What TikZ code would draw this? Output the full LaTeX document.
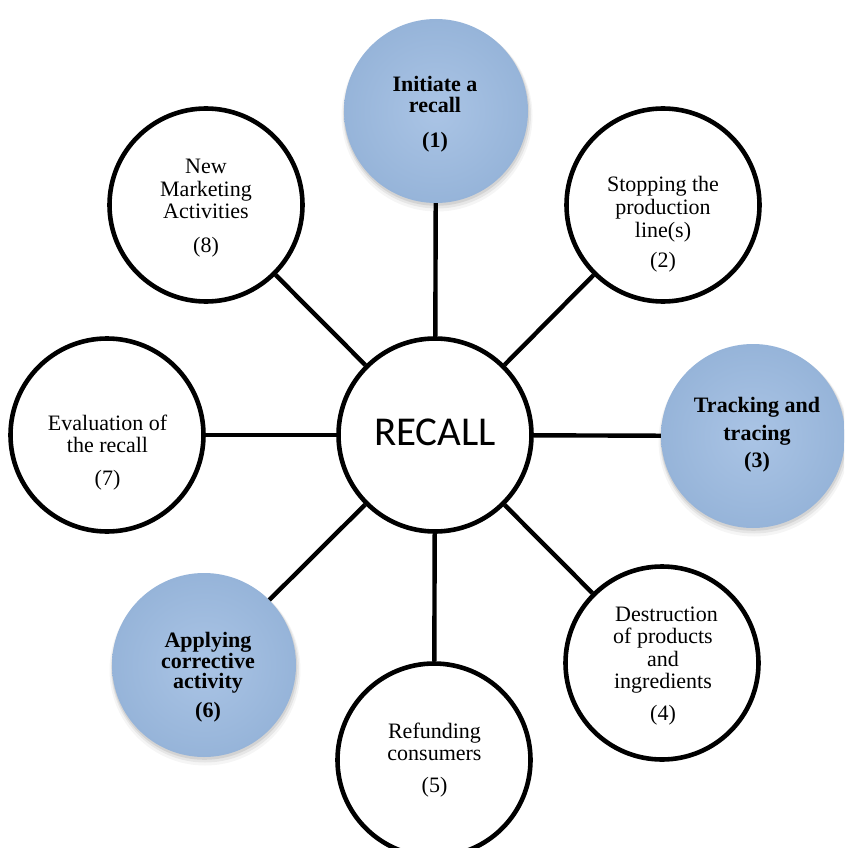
\documentclass[tikz,border=0pt]{standalone}
\usepackage{fontspec}
\setmainfont{Liberation Serif}
\newfontfamily\recallfont{Carlito}
\definecolor{ballin}{RGB}{170,196,229}
\definecolor{ballout}{RGB}{150,180,217}
\begin{document}
\begin{tikzpicture}[x=1pt,y=-1pt,
  wcirc/.style={circle, draw=black, line width=4.6pt, fill=white, minimum size=193pt, inner sep=0pt},
  bcirc/.style={circle, inner sep=0pt, minimum size=184pt, inner color=ballin, outer color=ballout},
  conn/.style={line width=4.4pt, black},
  txt/.style={align=center, inner sep=0pt, anchor=base},
  btxt/.style={txt}]
\clip (0,0) rectangle (844,848);
\fill[white] (0,0) rectangle (844,848);
% soft shadows of the blue circles
\foreach \x/\y in {436/111, 753/436, 204/665} {
  \fill[black,opacity=0.04] (\x+1,\y+5) circle (95.5);
  \fill[black,opacity=0.06] (\x+1,\y+3.5) circle (94);
  \fill[black,opacity=0.08] (\x+0.5,\y+2) circle (92.8);
}
\node[wcirc] (hub) at (435,435) {};
\node[anchor=base, inner sep=0pt, font=\recallfont\fontsize{41}{41}\selectfont] (hubtxt) at (435,445) {RECALL};

\node[bcirc] (n1) at (436,111) {};
\node[wcirc] (n2) at (663,205) {};
\node[bcirc] (n3) at (753,436) {};
\node[wcirc] (n4) at (662,663) {};
\node[wcirc] (n5) at (434,760) {};
\node[bcirc] (n6) at (204,665) {};
\node[wcirc] (n7) at (107,435) {};
\node[wcirc] (n8) at (206,205) {};

\node[btxt, font=\fontsize{22}{21}\selectfont\bfseries] (t1) at (435,147) {Initiate a\\recall\\[14pt](1)};
\node[txt, font=\fontsize{22}{23}\selectfont] (t2) at (663,267) {Stopping the\\production\\line(s)\\[7pt](2)};
\node[btxt, font=\fontsize{22}{28}\selectfont\bfseries] (t3) at (757,467) {Tracking and\\tracing\\[-1pt](3)};
\node[txt, font=\fontsize{22}{22.5}\selectfont] (t4) at (663,720) {\hspace*{7pt}Destruction\\of products\\and\\ingredients\\[9pt](4)};
\node[txt, font=\fontsize{22}{22}\selectfont] (t5) at (434.5,792) {Refunding\\consumers\\[10pt](5)};
\node[btxt, font=\fontsize{22}{20.5}\selectfont\bfseries] (t6) at (208,717) {Applying\\corrective\\activity\\[8pt](6)};
\node[txt, font=\fontsize{22}{22}\selectfont] (t7) at (107.5,485) {Evaluation of\\the recall\\[11pt](7)};
\node[txt, font=\fontsize{22}{22.5}\selectfont] (t8) at (206,252) {New\\Marketing\\Activities\\[11pt](8)};

\foreach \i in {1,...,8} \draw[conn] (hub) -- (n\i);
\end{tikzpicture}
\end{document}
